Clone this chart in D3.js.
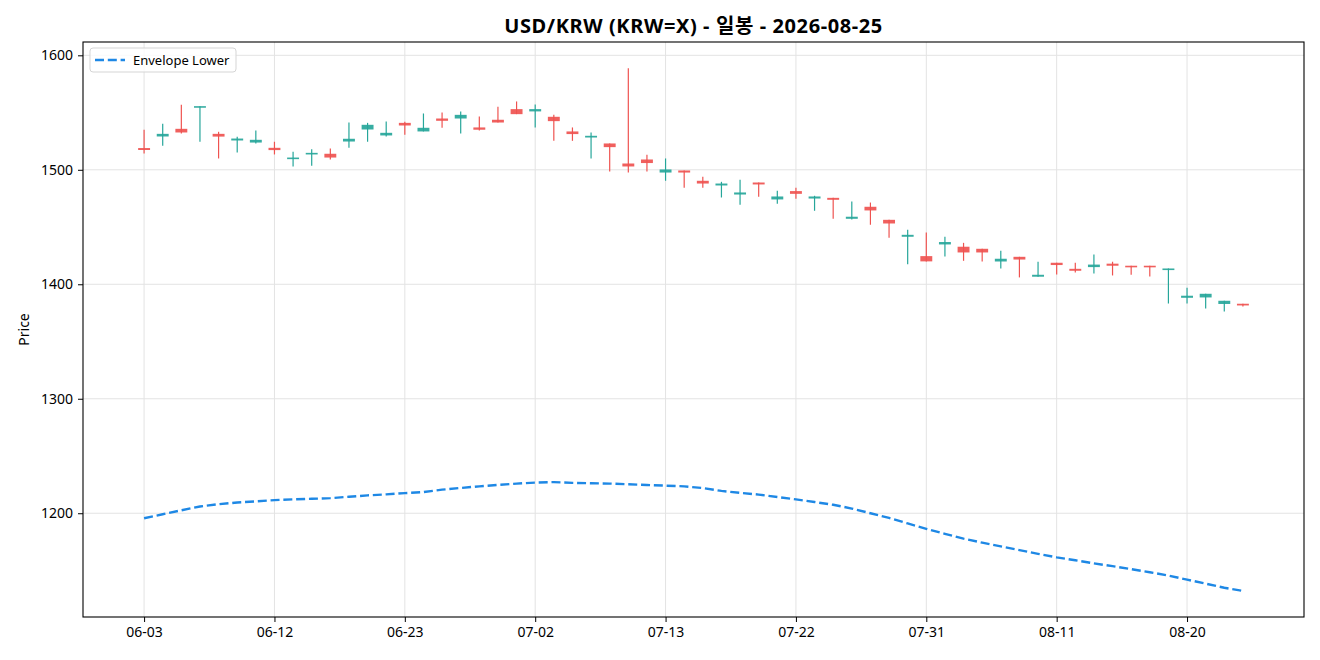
<!doctype html>
<html>
  <head>
    <meta charset="utf-8">
    <title>USD/KRW 일봉</title>
    <script src="https://cdnjs.cloudflare.com/ajax/libs/d3/7.8.5/d3.min.js"></script>
    <style>
      body { margin: 0; background: #fff; }
      svg { display: block; font-family: "Noto Sans", "Noto Sans CJK KR", sans-serif; }
    </style>
  </head>
  <body>
    <svg width="1320" height="660"></svg>
    <script>
      // trading days (weekdays) 2026-06-03 .. 2026-08-25
      var dates = [
        "06-03","06-04","06-05","06-08","06-09","06-10","06-11","06-12","06-15","06-16",
        "06-17","06-18","06-19","06-22","06-23","06-24","06-25","06-26","06-29","06-30",
        "07-01","07-02","07-03","07-06","07-07","07-08","07-09","07-10","07-13","07-14",
        "07-15","07-16","07-17","07-20","07-21","07-22","07-23","07-24","07-27","07-28",
        "07-29","07-30","07-31","08-03","08-04","08-05","08-06","08-07","08-10","08-11",
        "08-12","08-13","08-14","08-17","08-18","08-19","08-20","08-21","08-24","08-25"
      ];

      var openP = [
        1519.0,1529.1,1535.8,1554.2,1531.4,1525.6,1523.8,1519.2,1509.3,1513.4,
        1514.0,1524.7,1535.2,1530.0,1541.0,1533.5,1544.8,1544.8,1537.0,1543.7,
        1553.0,1551.0,1546.3,1533.5,1528.2,1523.0,1505.5,1509.0,1497.6,1499.4,
        1490.4,1486.3,1478.4,1488.9,1474.1,1481.4,1474.9,1475.5,1457.2,1467.7,
        1456.3,1441.5,1424.6,1434.8,1432.8,1431.0,1419.9,1424.0,1406.6,1418.8,
        1413.5,1415.0,1418.0,1416.2,1416.2,1412.4,1388.2,1388.5,1382.8,1383.0
      ];
      var highP = [
        1534.9,1540.2,1556.8,1555.6,1533.2,1528.8,1534.3,1524.5,1515.7,1518.0,
        1518.6,1541.3,1541.0,1542.2,1541.9,1549.2,1550.0,1550.9,1546.5,1555.0,
        1559.7,1557.0,1548.0,1537.0,1532.6,1523.0,1588.8,1513.1,1509.9,1499.4,
        1493.9,1489.5,1491.3,1488.9,1481.7,1484.3,1477.3,1475.5,1472.3,1471.4,
        1456.3,1447.6,1445.2,1441.5,1436.2,1431.0,1429.3,1424.0,1419.7,1418.8,
        1418.8,1426.0,1419.7,1416.2,1416.2,1413.8,1396.9,1391.7,1385.6,1383.0
      ];
      var lowP = [
        1514.2,1521.0,1531.7,1524.5,1509.9,1515.1,1523.0,1513.4,1502.9,1503.5,
        1509.0,1519.2,1524.5,1529.1,1530.6,1533.5,1536.7,1531.7,1534.3,1541.3,
        1548.6,1537.0,1525.3,1525.3,1509.9,1498.5,1497.6,1498.5,1490.4,1484.3,
        1484.3,1475.8,1469.4,1476.4,1470.3,1474.7,1464.2,1457.2,1456.6,1452.0,
        1440.6,1417.6,1420.0,1424.3,1420.5,1420.0,1413.8,1406.0,1406.6,1408.6,
        1410.3,1409.4,1407.7,1408.3,1406.8,1383.2,1383.2,1378.9,1376.2,1380.6
      ];
      var closeP = [
        1517.3,1531.4,1532.6,1555.6,1529.0,1527.3,1526.2,1517.2,1510.7,1514.8,
        1510.7,1527.1,1539.3,1532.3,1538.7,1536.7,1542.8,1548.0,1535.0,1541.3,
        1548.6,1553.0,1542.5,1531.2,1529.7,1519.8,1502.9,1505.9,1500.3,1497.6,
        1488.0,1488.0,1480.2,1487.2,1476.7,1479.0,1476.7,1473.8,1459.0,1464.5,
        1453.1,1443.2,1420.0,1436.9,1427.8,1427.8,1422.3,1421.6,1408.3,1416.8,
        1411.8,1417.2,1416.2,1414.8,1414.8,1413.8,1390.0,1391.7,1385.6,1381.5
      ];

      var envelopeLower = [
        1195.6,1199.1,1202.6,1205.9,1207.9,1209.4,1210.3,1211.5,1212.1,1212.6,
        1213.2,1214.4,1215.6,1216.5,1217.6,1218.5,1220.6,1222.1,1223.5,1224.7,
        1225.9,1226.8,1227.2,1226.5,1226.2,1225.9,1225.3,1224.7,1224.1,1223.5,
        1222.0,1219.5,1217.8,1216.3,1214.2,1212.1,1209.8,1207.4,1204.1,1200.0,
        1195.9,1191.1,1186.4,1182.0,1177.8,1174.3,1171.0,1167.8,1164.5,1161.5,
        1158.9,1156.2,1153.8,1151.2,1148.5,1145.6,1142.0,1138.5,1134.9,1132.2
      ];

      var yTicks = [1200, 1300, 1400, 1500, 1600];
      var tickEvery = 7;

      var upColor = "#26a69a", downColor = "#ef5350", envColor = "#1e88e5";

      var width = 1320, height = 660;
      var plot = { left: 83, right: 1304, top: 42, bottom: 617 };

      var svg = d3.select("svg");

      var n = dates.length;
      var x = d3.scaleLinear()
          .domain([-3.28, n - 1 + 3.28])
          .range([plot.left, plot.right]);

      // 5% padding like matplotlib
      var lo = Math.min(d3.min(lowP), d3.min(envelopeLower));
      var hi = Math.max(d3.max(highP), d3.max(envelopeLower));
      var pad = (hi - lo) * 0.05;
      var y = d3.scaleLinear()
          .domain([lo - pad, hi + pad])
          .range([plot.bottom, plot.top]);

      var xTicks = d3.range(0, n, tickEvery);

      // grid
      var grid = svg.append("g").attr("stroke", "#e3e3e3").attr("stroke-width", 1);
      grid.selectAll("line.gx").data(xTicks).join("line")
          .attr("x1", function(d) { return x(d); }).attr("x2", function(d) { return x(d); })
          .attr("y1", plot.top).attr("y2", plot.bottom);
      grid.selectAll("line.gy").data(yTicks).join("line")
          .attr("y1", function(d) { return y(d); }).attr("y2", function(d) { return y(d); })
          .attr("x1", plot.left).attr("x2", plot.right);

      // candles
      var step = x(1) - x(0);
      var bodyW = step * 0.64;
      var candles = svg.append("g");
      var idx = d3.range(n);
      function col(i) { return closeP[i] >= openP[i] ? upColor : downColor; }

      candles.selectAll("line.wick").data(idx).join("line")
          .attr("class", "wick")
          .attr("x1", function(i) { return x(i); })
          .attr("x2", function(i) { return x(i); })
          .attr("y1", function(i) { return y(highP[i]); })
          .attr("y2", function(i) { return y(lowP[i]); })
          .attr("stroke", col)
          .attr("stroke-width", 1.2);

      candles.selectAll("rect.body").data(idx).join("rect")
          .attr("class", "body")
          .attr("x", function(i) { return x(i) - bodyW / 2; })
          .attr("width", bodyW)
          .attr("y", function(i) { return y(Math.max(openP[i], closeP[i])); })
          .attr("height", function(i) { return Math.max(1.6, Math.abs(y(openP[i]) - y(closeP[i]))); })
          .attr("fill", col)
          .attr("fill-opacity", 0.92);

      // envelope lower
      var line = d3.line()
          .x(function(d, i) { return x(i); })
          .y(function(d) { return y(d); });

      svg.append("path")
          .datum(envelopeLower)
          .attr("d", line)
          .attr("fill", "none")
          .attr("stroke", envColor)
          .attr("stroke-width", 2.4)
          .attr("stroke-dasharray", "9,3.8");

      // axes
      var xAxis = d3.axisBottom(x)
          .tickValues(xTicks)
          .tickFormat(function(d) { return dates[d]; })
          .tickSize(5).tickPadding(5);
      var yAxis = d3.axisLeft(y)
          .tickValues(yTicks)
          .tickFormat(d3.format("d"))
          .tickSize(5).tickPadding(5);

      var gx = svg.append("g")
          .attr("transform", "translate(0," + plot.bottom + ")")
          .call(xAxis);
      var gy = svg.append("g")
          .attr("transform", "translate(" + plot.left + ",0)")
          .call(yAxis);
      [gx, gy].forEach(function(g) {
        g.select(".domain").remove();
        g.selectAll(".tick line").attr("stroke", "#000").attr("stroke-width", 1);
        g.selectAll(".tick text")
            .attr("fill", "#000")
            .style("font-family", '"Noto Sans", "Noto Sans CJK KR", sans-serif')
            .style("font-size", "14px");
      });

      // frame
      svg.append("rect")
          .attr("x", plot.left).attr("y", plot.top)
          .attr("width", plot.right - plot.left)
          .attr("height", plot.bottom - plot.top)
          .attr("fill", "none")
          .attr("stroke", "#000")
          .attr("stroke-width", 1.1);

      // title and label
      svg.append("text")
          .attr("x", (plot.left + plot.right) / 2)
          .attr("y", 33)
          .attr("text-anchor", "middle")
          .style("font-size", "20px")
          .style("font-weight", "bold")
          .style("letter-spacing", "0.6px")
          .text("USD/KRW (KRW=X) - 일봉 - 2026-08-25");

      svg.append("text")
          .attr("transform", "translate(29," + ((plot.top + plot.bottom) / 2) + ") rotate(-90)")
          .attr("text-anchor", "middle")
          .style("font-size", "14px")
          .text("Price");

      // legend
      var lg = svg.append("g").attr("transform", "translate(90,48)");
      lg.append("rect")
          .attr("width", 146).attr("height", 24)
          .attr("rx", 3)
          .attr("fill", "#fff").attr("fill-opacity", 0.8)
          .attr("stroke", "#d5d5d5");
      lg.append("line")
          .attr("x1", 5).attr("x2", 35).attr("y1", 12).attr("y2", 12)
          .attr("stroke", envColor)
          .attr("stroke-width", 2.4)
          .attr("stroke-dasharray", "9,3.8");
      lg.append("text")
          .attr("x", 43).attr("y", 16.5)
          .style("font-size", "13px")
          .text("Envelope Lower");
    </script>
  </body>
</html>
